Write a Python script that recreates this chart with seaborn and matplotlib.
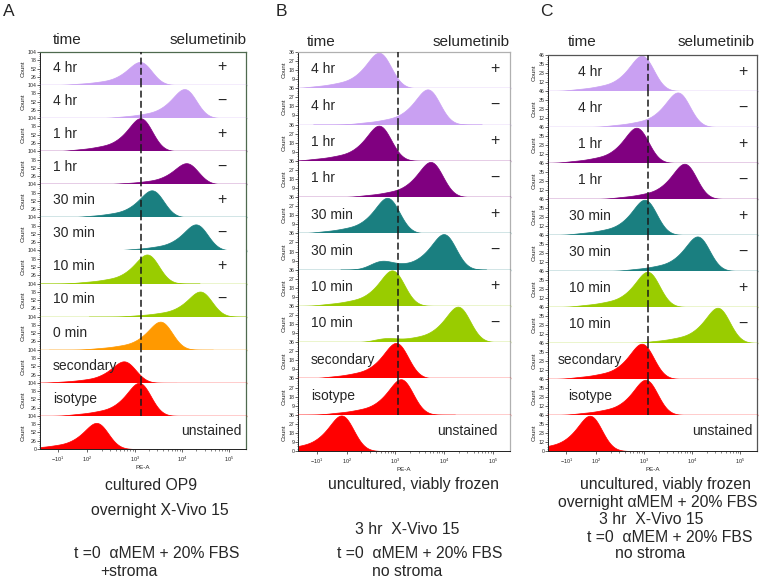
import numpy as np
import matplotlib
matplotlib.use('Agg')
import matplotlib.pyplot as plt
from matplotlib.ticker import FixedLocator, MultipleLocator
import seaborn as sns

sns.set_style('ticks')
plt.rcParams['font.family'] = ['Liberation Sans', 'DejaVu Sans']
plt.rcParams['mathtext.fontset'] = 'custom'
plt.rcParams['mathtext.rm'] = 'Liberation Sans'

# colours of the conditions
lavender = '#c9a0f2'
purple = '#800080'
teal = '#1a7f80'
lime = '#99cc00'
orange = '#ff9900'
red = '#ff0000'

# ---- panel A : cultured OP9 ----
a_times = ['4 hr', '4 hr', '1 hr', '1 hr', '30 min', '30 min', '10 min', '10 min',
           '0 min', 'secondary', 'isotype', 'unstained']
a_signs = ['+', '−', '+', '−', '+', '−', '+', '−', '', '', '', '']
a_colors = [lavender, lavender, purple, purple, teal, teal, lime, lime, orange, red, red, red]
a_peaks = [3.14, 4.08, 3.15, 4.12, 3.39, 4.32, 3.29, 4.41, 3.57, 2.80, 3.12, 2.22]   # log10 PE-A at mode
a_heights = [0.70, 0.88, 1.00, 0.64, 0.82, 0.79, 0.88, 0.76, 0.85, 0.65, 1.00, 0.79]  # mode / axis max
a_bump_pos = [0] * 12
a_bump_w = [0] * 12
a_count_ticks = ['26', '52', '78', '104']
a_dash = 3.13
a_caption = ['cultured OP9', 'overnight X-Vivo 15', 't =0  αMEM + 20% FBS', '+stroma']

# ---- panel B : uncultured, no overnight ----
b_times = ['4 hr', '4 hr', '1 hr', '1 hr', '30 min', '30 min', '10 min', '10 min',
           'secondary', 'isotype', 'unstained']
b_signs = ['+', '−', '+', '−', '+', '−', '+', '−', '', '', '']
b_colors = [lavender, lavender, purple, purple, teal, teal, lime, lime, red, red, red]
b_peaks = [2.69, 3.69, 2.69, 3.75, 2.86, 4.02, 2.96, 4.31, 3.04, 3.14, 1.92]
b_heights = [0.98, 0.97, 0.97, 0.97, 0.98, 0.98, 0.98, 0.98, 0.98, 0.98, 0.98]
b_bump_pos = [0, 0, 0, 0, 0, 2.71, 0, 2.76, 0, 0, 0]
b_bump_w = [0, 0, 0, 0, 0, 0.20, 0, 0.09, 0, 0, 0]
b_count_ticks = ['9', '18', '27', '36']
b_dash = 3.06
b_caption = ['uncultured, viably frozen', '3 hr  X-Vivo 15', 't =0  αMEM + 20% FBS', 'no stroma']

# ---- panel C : uncultured, overnight aMEM ----
c_times = ['4 hr', '4 hr', '1 hr', '1 hr', '30 min', '30 min', '10 min', '10 min',
           'secondary', 'isotype', 'unstained']
c_signs = ['+', '−', '+', '−', '+', '−', '+', '−', '', '', '']
c_colors = [lavender, lavender, purple, purple, teal, teal, lime, lime, red, red, red]
c_peaks = [2.98, 3.73, 2.87, 3.87, 3.04, 4.14, 3.10, 4.56, 2.98, 3.06, 1.90]
c_heights = [0.98, 0.96, 0.98, 0.98, 0.98, 0.96, 0.98, 0.98, 0.98, 0.98, 0.98]
c_bump_pos = [0] * 11
c_bump_w = [0] * 11
c_count_ticks = ['12', '23', '35', '46']
c_dash = 3.08
c_caption = ['uncultured, viably frozen', 'overnight αMEM + 20% FBS', '3 hr  X-Vivo 15',
             't =0  αMEM + 20% FBS', 'no stroma']

x_tick_pos = [1.38, 2, 3, 4, 5]
x_tick_labels = ['$-10^1$', '$10^2$', '$10^3$', '$10^4$', '$10^5$']

W, H = 762, 578
X0, X1 = 1.0, 5.35
BW = 0.23
fig = plt.figure(figsize=(W / 100, H / 100), dpi=100)


def px_axes(left, top, width, height):
    return fig.add_axes([left / W, 1 - (top + height) / H, width / W, height / H])


def fig_text(x, y, s, **kw):
    fig.text(x / W, 1 - y / H, s, **kw)


def draw_panel(box, times, signs, colors, peaks, heights, bump_pos, bump_w,
               count_ticks, dash_x, box_color, lab_x, lab_ha, sign_x, unst_x):
    left, top, right, bottom = box
    n = len(times)
    row_h = (bottom - top) / n
    minor = [np.log10(k * 10 ** d) for d in (2, 3, 4) for k in range(2, 10)]
    for i in range(n):
        ax = px_axes(left, top + i * row_h, right - left, row_h)
        # mode plus a fading left tail, smoothed by the kde
        xs = [peaks[i], peaks[i] - 0.4, peaks[i] - 0.85, peaks[i] - 1.3]
        ws = [1.0, 0.3, 0.12, 0.05]
        if bump_w[i] > 0:
            xs.append(bump_pos[i])
            ws.append(bump_w[i])
        factor = BW / np.sqrt(np.cov(xs, aweights=ws))
        sns.kdeplot(x=xs, weights=ws, bw_method=factor, fill=True, color=colors[i],
                    alpha=1, linewidth=0.5, cut=4, gridsize=400, clip=(X0, X1), ax=ax)
        ymax = ax.collections[0].get_paths()[0].vertices[:, 1].max()
        top_y = ymax / heights[i]
        ax.set_xlim(X0, X1)
        ax.set_ylim(0, top_y)

        last = i == n - 1
        ticks = [top_y * k / 4 for k in range(1, 5)]
        labels = list(count_ticks)
        if last:
            ticks = [0] + ticks
            labels = ['0'] + labels
        ax.set_yticks(ticks)
        ax.set_yticklabels(labels)
        ax.yaxis.set_minor_locator(MultipleLocator(top_y / 16))
        ax.tick_params(axis='y', which='major', length=2, width=0.5, labelsize=3.8, pad=0.5)
        ax.tick_params(axis='y', which='minor', length=1, width=0.4)
        ax.set_ylabel('Count', fontsize=4.5, labelpad=1.5)

        for s in ['top', 'right']:
            ax.spines[s].set_color(box_color)
            ax.spines[s].set_linewidth(0.9)
        ax.spines['top'].set_visible(i == 0)
        ax.spines['left'].set_color('#222222')
        ax.spines['left'].set_linewidth(0.7)
        if last:
            ax.spines['bottom'].set_color('#222222')
            ax.spines['bottom'].set_linewidth(0.7)
            ax.set_xticks(x_tick_pos)
            ax.set_xticklabels(x_tick_labels)
            ax.xaxis.set_minor_locator(FixedLocator(minor))
            ax.tick_params(axis='x', which='major', length=2.5, width=0.5, labelsize=4, pad=1.5)
            ax.tick_params(axis='x', which='minor', length=1.5, width=0.4)
            ax.set_xlabel('PE-A', fontsize=4.5, labelpad=1)
        else:
            ax.spines['bottom'].set_color(colors[i])
            ax.spines['bottom'].set_linewidth(1.0)
            ax.set_xticks([])
            ax.set_xlabel('')
            ax.axvline(dash_x, color='#1a1a1a', lw=1.1, ls=(0, (4.5, 2.2)), zorder=5)

        if times[i] == 'unstained':
            ax.text(unst_x, 0.55, times[i], transform=ax.transAxes, ha='right', va='center',
                    fontsize=10)
        else:
            ax.text(lab_x, 0.52, times[i], transform=ax.transAxes, ha=lab_ha, va='center',
                    fontsize=10)
        if signs[i]:
            ax.text(sign_x, 0.55, signs[i], transform=ax.transAxes, ha='center', va='center',
                    fontsize=11.5)


draw_panel((40, 52, 246, 449), a_times, a_signs, a_colors, a_peaks, a_heights,
           a_bump_pos, a_bump_w, a_count_ticks, a_dash, '#4f6a4f', 0.063, 'left', 0.883, 0.98)
draw_panel((298, 52, 510, 451), b_times, b_signs, b_colors, b_peaks, b_heights,
           b_bump_pos, b_bump_w, b_count_ticks, b_dash, '#b0b0b0', 0.061, 'left', 0.929, 0.94)
draw_panel((548, 55, 757, 451), c_times, c_signs, c_colors, c_peaks, c_heights,
           c_bump_pos, c_bump_w, c_count_ticks, c_dash, '#555555', 0.2, 'center', 0.933, 0.98)

# panel letters and headers
for letter, x in zip(['A', 'B', 'C'], [9, 281, 546]):
    fig_text(x, 12, letter, ha='center', va='center', fontsize=12.5)
for x_time, x_sel, y in [(53, 247, 40), (307, 510, 42), (568, 755, 42)]:
    fig_text(x_time, y, 'time', ha='left', va='center', fontsize=11)
    fig_text(x_sel, y, 'selumetinib', ha='right', va='center', fontsize=11)

# captions under the panels
for s, x, y in zip(a_caption, [151, 160, 157, 129], [485, 510, 554, 571]):
    fig_text(x, y, s, ha='center', va='center', fontsize=11.3)
for s, x, y in zip(b_caption, [414, 407, 420, 407], [484, 530, 553, 572]):
    fig_text(x, y, s, ha='center', va='center', fontsize=11.3)
for s, x, y in zip(c_caption, [666, 658, 651, 670, 650], [485, 503, 520, 537, 553]):
    fig_text(x, y, s, ha='center', va='center', fontsize=11.3)

fig.savefig('out.png', dpi=100)
